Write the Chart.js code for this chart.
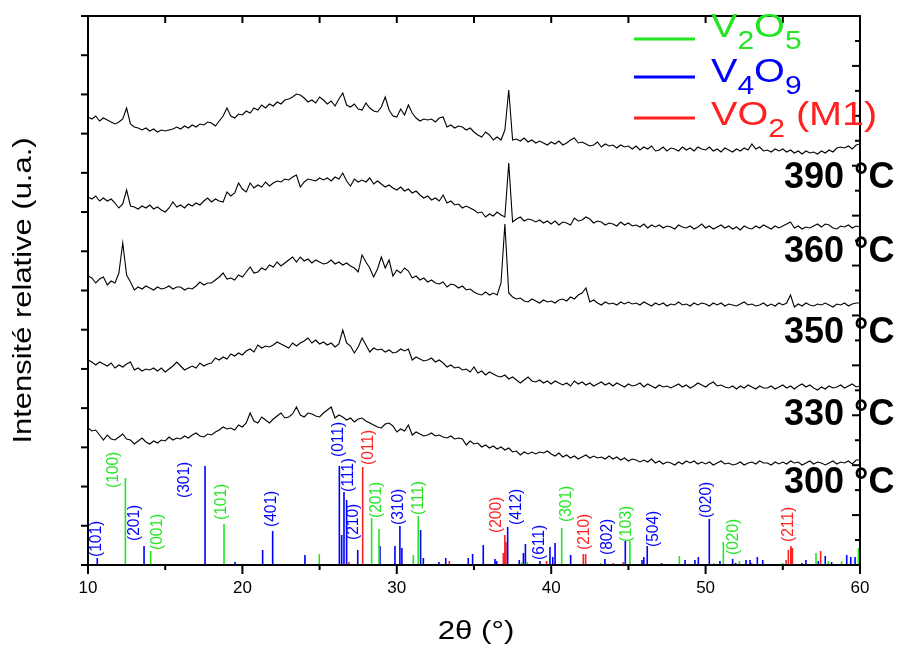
<!DOCTYPE html>
<html>
<head>
<meta charset="utf-8">
<script src="https://cdn.jsdelivr.net/npm/chart.js@4.4.0/dist/chart.umd.min.js"></script>
<style>
  html, body { margin: 0; padding: 0; background: #fff; }
  #wrap { width: 904px; height: 649px; }
</style>
</head>
<body>
<div id="wrap"><canvas id="xrdChart" width="904" height="649"></canvas></div>
<script>
// 2theta sampling of the measured patterns (10..60, step 0.25)
const scanStart = 10;
const scanStep = 0.25;

// measured patterns, already stacked (a.u.)
const scan300 = [
  137, 134, 135, 130, 125, 130, 126, 125, 128, 131, 126, 125, 121, 124, 127, 123,
  121, 124, 122, 125, 124, 128, 125, 127, 126, 129, 127, 130, 132, 129, 128, 131,
  130, 133, 135, 138, 136, 137, 135, 140, 138, 142, 152, 144, 142, 148, 145, 142,
  146, 149, 152, 147, 148, 151, 158, 150, 148, 152, 151, 149, 148, 152, 155, 158,
  147, 150, 148, 145, 147, 143, 146, 147, 144, 142, 140, 138, 137, 141, 142, 139,
  133, 136, 134, 140, 130, 133, 131, 129, 130, 132, 129, 130, 128, 127, 129, 126,
  127, 126, 120, 124, 121, 122, 118, 120, 117, 119, 116, 118, 115, 117, 113, 114,
  110, 113, 111, 113, 111, 113, 112, 114, 111, 109, 112, 108, 110, 107, 109, 106,
  108, 110, 107, 109, 107, 108, 106, 109, 106, 108, 105, 107, 104, 106, 105, 103,
  105, 103, 106, 102, 104, 101, 103, 102, 100, 103, 101, 104, 102, 104, 101, 103,
  101, 103, 100, 102, 104, 101, 102, 100, 101, 103, 100, 102, 103, 101, 104, 102,
  102, 100, 103, 101, 103, 101, 104, 102, 103, 100, 102, 104, 101, 103, 102, 100,
  102, 104, 101, 103, 102, 104, 101, 105, 105
];
const scan330 = [
  205, 203, 200, 203, 201, 199, 202, 197, 200, 198, 201, 203, 195, 197, 194, 196,
  195, 197, 194, 197, 193, 196, 199, 203, 199, 195, 197, 199, 197, 202, 199, 201,
  202, 207, 205, 208, 206, 211, 209, 212, 210, 214, 216, 213, 220, 217, 219, 218,
  220, 223, 221, 219, 217, 222, 219, 222, 224, 227, 222, 225, 221, 223, 220, 222,
  218, 221, 235, 222, 219, 212, 218, 227, 220, 213, 217, 215, 216, 213, 215, 212,
  213, 216, 214, 216, 205, 208, 206, 204, 205, 207, 203, 205, 202, 198, 200, 197,
  198, 195, 196, 193, 198, 192, 194, 190, 193, 191, 189, 188, 190, 186, 188, 185,
  182, 185, 188, 184, 183, 185, 182, 184, 181, 184, 182, 180, 182, 179, 184, 181,
  183, 180, 182, 179, 181, 183, 180, 182, 179, 182, 180, 178, 181, 179, 180, 182,
  178, 181, 179, 177, 180, 178, 179, 177, 179, 181, 178, 180, 177, 179, 182, 180,
  178, 181, 183, 179, 180, 178, 177, 179, 176, 179, 177, 180, 178, 176, 179, 177,
  177, 179, 176, 178, 180, 177, 179, 176, 179, 181, 178, 180, 177, 175, 178, 176,
  179, 177, 178, 180, 177, 179, 181, 178, 179
];
const scan350 = [
  289, 287, 282, 286, 288, 280, 284, 282, 292, 322, 290, 283, 275, 278, 276, 279,
  277, 275, 278, 276, 277, 279, 276, 278, 278, 275, 277, 276, 279, 283, 280, 282,
  282, 285, 288, 292, 286, 287, 285, 290, 288, 293, 298, 292, 293, 297, 295, 300,
  298, 303, 299, 302, 305, 308, 303, 308, 304, 306, 302, 305, 303, 301, 302, 305,
  301, 303, 300, 302, 299, 297, 293, 310, 303, 297, 288, 296, 308, 297, 305, 289,
  295, 292, 297, 294, 287, 289, 285, 287, 283, 285, 282, 281, 283, 278, 281, 280,
  277, 279, 275, 276, 273, 271, 270, 273, 270, 272, 270, 282, 341, 272, 268, 266,
  267, 264, 263, 266, 264, 262, 265, 263, 264, 262, 265, 266, 264, 268, 266, 270,
  272, 277, 263, 265, 262, 260, 263, 261, 262, 260, 263, 261, 263, 261, 262, 260,
  263, 261, 259, 262, 260, 262, 259, 261, 260, 263, 260, 261, 259, 262, 260, 262,
  261, 259, 262, 260, 262, 259, 261, 260, 259, 261, 263, 260, 261, 259, 260, 262,
  259, 261, 259, 262, 260, 262, 270, 258, 261, 259, 262, 260, 259, 261, 260, 262,
  260, 258, 261, 260, 262, 259, 261, 262, 262
];
const scan360 = [
  368, 366, 369, 364, 367, 364, 366, 362, 357, 361, 375, 359, 358, 356, 359, 357,
  360, 356, 358, 355, 353, 357, 363, 358, 360, 357, 361, 359, 362, 360, 364, 367,
  363, 366, 364, 363, 373, 369, 372, 382, 376, 373, 382, 377, 380, 378, 383, 379,
  382, 384, 383, 386, 385, 388, 390, 378, 383, 386, 385, 384, 387, 385, 387, 384,
  388, 386, 392, 384, 379, 386, 383, 385, 383, 387, 381, 384, 381, 378, 380, 377,
  375, 378, 374, 376, 372, 374, 370, 367, 369, 365, 367, 364, 370, 362, 364, 360,
  361, 357, 359, 357, 355, 352, 353, 348, 351, 349, 353, 350, 348, 402, 343, 346,
  348, 344, 346, 345, 343, 345, 342, 344, 341, 344, 340, 343, 342, 340, 347, 344,
  345, 348, 346, 342, 344, 343, 340, 342, 341, 339, 343, 340, 342, 339, 340, 338,
  341, 337, 340, 338, 340, 337, 339, 338, 336, 340, 338, 337, 339, 336, 338, 341,
  337, 339, 336, 338, 340, 337, 339, 336, 338, 335, 339, 337, 336, 339, 337, 340,
  338, 336, 339, 337, 339, 341, 343, 337, 339, 336, 338, 337, 339, 341, 338, 341,
  340, 337, 336, 339, 338, 340, 337, 339, 338
];
const scan390 = [
  448, 446, 449, 444, 447, 445, 443, 441, 443, 446, 457, 441, 438, 437, 435, 437,
  434, 436, 433, 435, 434, 435, 436, 438, 436, 439, 437, 440, 438, 441, 440, 443,
  442, 439, 444, 449, 457, 449, 447, 451, 450, 454, 452, 457, 455, 460, 457, 461,
  459, 463, 461, 465, 466, 468, 471, 470, 467, 463, 465, 462, 468, 465, 461, 464,
  459, 466, 472, 460, 458, 461, 456, 455, 462, 457, 454, 453, 458, 468, 455, 449,
  448, 456, 450, 460, 452, 447, 444, 446, 445, 446, 443, 447, 448, 438, 440, 437,
  439, 438, 435, 437, 433, 430, 428, 433, 430, 425, 428, 425, 435, 475, 425, 426,
  424, 427, 423, 425, 422, 424, 422, 420, 423, 421, 424, 420, 422, 425, 427, 422,
  423, 421, 419, 420, 423, 418, 421, 419, 420, 417, 420, 418, 419, 416, 419, 415,
  418, 416, 419, 414, 415, 418, 414, 417, 416, 414, 418, 415, 417, 414, 418, 416,
  415, 418, 414, 416, 413, 417, 415, 413, 416, 414, 417, 415, 421, 416, 418, 414,
  415, 413, 416, 414, 416, 413, 415, 412, 414, 411, 414, 412, 413, 411, 414, 412,
  415, 413, 417, 418, 417, 419, 416, 420, 421
];

// reference sticks (2theta, relative intensity)
const v2o5Pos = [12.42, 14.06, 18.81, 24.98, 28.37, 28.85, 31.07, 31.39, 38.09, 38.46, 40.68, 43.2,
  45.1, 48.3, 50.54, 51.15, 52.19, 54.99, 57.15, 57.95, 58.81, 59.9];
const v2o5Int = [87, 14, 41, 11, 47, 36, 10, 49, 3, 3, 37, 2,
  24, 9, 2, 23, 4, 2, 12, 4, 4, 17];
const v4o9Pos = [10.6, 13.63, 17.58, 19.52, 21.31, 21.96, 24.05, 26.28, 26.43, 26.58, 26.75, 27.47,
  28.91, 29.88, 30.2, 30.33, 31.54, 31.72, 32.73, 33.17, 34.63, 34.91, 35.6, 36.36, 36.47,
  37.18, 37.93, 38.2, 38.33, 39.27, 39.92, 40.1, 40.25, 41.26, 43.48, 44.8, 45.88, 46.0,
  46.22, 47.15, 48.67, 49.31, 49.53, 50.24, 50.93, 51.75, 51.95, 52.62, 52.88, 53.35, 53.7,
  56.23, 56.5, 57.3, 57.75, 58.16, 59.14, 59.4, 59.68];
const v4o9Int = [7, 19, 99, 3, 15, 34, 10, 99, 30, 73, 65, 15,
  19, 19, 39, 17, 35, 7, 3, 7, 7, 11, 20, 6, 4,
  38, 5, 12, 21, 4, 18, 8, 22, 10, 6, 24, 5, 8,
  19, 2, 5, 5, 8, 46, 4, 6, 2, 5, 5, 8, 5,
  2, 5, 4, 9, 3, 10, 8, 8];
const vo2Pos = [26.9, 27.79, 33.4, 36.9, 37.0, 37.07, 39.7, 42.08, 42.23, 44.02, 44.67, 52.98,
  55.21, 55.36, 55.52, 55.62, 57.45];
const vo2Int = [3, 98, 4, 12, 30, 23, 4, 11, 11, 2, 3, 2,
  5, 15, 19, 17, 14];

// (hkl) annotations: text, phase, 2theta, intensity at text start
const hklLabels = [
  ['(101)', 'V4O9', 10.58, 8], ['(100)', 'V2O5', 11.65, 77], ['(201)', 'V4O9', 13.04, 24],
  ['(001)', 'V2O5', 14.53, 15], ['(301)', 'V4O9', 16.28, 67], ['(101)', 'V2O5', 18.65, 45],
  ['(401)', 'V4O9', 21.88, 38], ['(011)', 'V4O9', 26.22, 108], ['(111)', 'V4O9', 26.87, 73],
  ['(210)', 'V4O9', 27.2, 25], ['(011)', 'VO2', 28.17, 100], ['(201)', 'V2O5', 28.69, 47],
  ['(310)', 'V4O9', 30.11, 40], ['(111)', 'V2O5', 31.41, 50], ['(200)', 'VO2', 36.46, 32],
  ['(412)', 'V4O9', 37.75, 40], ['(611)', 'V4O9', 39.27, 5], ['(301)', 'V2O5', 40.99, 43],
  ['(210)', 'VO2', 42.19, 15], ['(802)', 'V4O9', 43.65, 10], ['(103)', 'V2O5', 44.88, 23],
  ['(504)', 'V4O9', 46.66, 18], ['(020)', 'V4O9', 50.06, 47], ['(020)', 'V2O5', 51.84, 10],
  ['(211)', 'VO2', 55.37, 23]
];

const tempLabels = ['390 °C', '360 °C', '350 °C', '330 °C', '300 °C'];
const tempLevels = [377, 303, 222, 140, 72];

const yMax = 549;
const FONT = '"Liberation Sans", Arial, Helvetica, sans-serif';
const colors = { V2O5: '#22e622', V4O9: '#0000ff', VO2: '#ff2020' };

function toPoints(values) {
  return values.map((v, i) => ({ x: scanStart + i * scanStep, y: v }));
}

function toSticks(pos, ints) {
  const pts = [];
  pos.forEach((p, i) => {
    pts.push({ x: p, y: 0 }, { x: p, y: ints[i] }, { x: p, y: null });
  });
  return pts;
}

function scanDataset(values) {
  return {
    data: toPoints(values),
    borderColor: '#000',
    borderWidth: 1.1,
    pointRadius: 0,
    tension: 0
  };
}

function stickDataset(pos, ints, color) {
  return {
    data: toSticks(pos, ints),
    borderColor: color,
    borderWidth: 1.6,
    pointRadius: 0,
    spanGaps: false,
    tension: 0
  };
}

function drawStretched(ctx, text, x, y, sx, rotate) {
  ctx.save();
  ctx.translate(x, y);
  if (rotate) ctx.rotate(-Math.PI / 2);
  ctx.scale(sx, 1);
  ctx.fillText(text, 0, 0);
  ctx.restore();
}

const decor = {
  id: 'decor',
  afterDraw(chart) {
    const ctx = chart.ctx;
    const xs = chart.scales.x;
    const ys = chart.scales.y;
    const a = chart.chartArea;

    ctx.save();
    ctx.strokeStyle = '#000';
    ctx.fillStyle = '#000';
    ctx.lineWidth = 2;
    ctx.lineCap = 'butt';

    const seg = (x1, y1, x2, y2) => {
      ctx.beginPath();
      ctx.moveTo(x1, y1);
      ctx.lineTo(x2, y2);
      ctx.stroke();
    };

    // frame
    ctx.strokeRect(a.left, a.top, a.right - a.left, a.bottom - a.top);

    // x ticks + labels
    ctx.font = '17px ' + FONT;
    ctx.textAlign = 'center';
    ctx.textBaseline = 'middle';
    for (let v = 10; v <= 60; v += 5) {
      const px = xs.getPixelForValue(v);
      const major = v % 10 === 0;
      seg(px, a.bottom, px, a.bottom + (major ? 9 : 5));
      seg(px, a.top, px, a.top + 7);
      if (major) ctx.fillText(String(v), px, a.bottom + 23);
    }

    // left ticks (outward)
    for (let k = 0; k <= 14; k++) {
      const py = ys.getPixelForValue(k * yMax / 14);
      seg(a.left - 7, py, a.left, py);
    }
    // right ticks (inward)
    for (let k = 0; k <= 22; k++) {
      const py = ys.getPixelForValue(k * yMax / 22);
      seg(a.right - (k % 2 === 0 ? 8 : 5), py, a.right, py);
    }

    // axis titles
    ctx.font = '26px ' + FONT;
    ctx.textAlign = 'center';
    ctx.textBaseline = 'middle';
    drawStretched(ctx, 'Intensité relative (u.a.)', 24, (a.top + a.bottom) / 2, 1.19, true);
    drawStretched(ctx, '2θ (°)', (a.left + a.right) / 2 + 2, a.bottom + 67, 1.2, false);

    // (hkl) labels
    ctx.font = '16px ' + FONT;
    ctx.textAlign = 'left';
    ctx.textBaseline = 'middle';
    hklLabels.forEach(([txt, phase, tt, h]) => {
      ctx.fillStyle = colors[phase];
      drawStretched(ctx, txt, xs.getPixelForValue(tt), ys.getPixelForValue(h), 0.97, true);
    });

    // temperature labels
    ctx.fillStyle = '#000';
    ctx.font = 'bold 36px ' + FONT;
    ctx.textAlign = 'left';
    ctx.textBaseline = 'alphabetic';
    tempLabels.forEach((t, i) => {
      ctx.fillText(t, xs.getPixelForValue(55.08), ys.getPixelForValue(tempLevels[i]));
    });

    // legend
    const rows = [
      { parts: [['V', 0], ['2', 1], ['O', 0], ['5', 1]], color: colors.V2O5, lineY: 23, textY: 21 },
      { parts: [['V', 0], ['4', 1], ['O', 0], ['9', 1]], color: colors.V4O9, lineY: 61, textY: 66 },
      { parts: [['VO', 0], ['2', 1], [' (M1)', 0]], color: colors.VO2, lineY: 102, textY: 109 }
    ];
    const sx = 1.2;
    rows.forEach(r => {
      ctx.strokeStyle = r.color;
      ctx.fillStyle = r.color;
      ctx.lineWidth = 3;
      seg(a.right - 226, a.top + r.lineY, a.right - 165, a.top + r.lineY);
      let x = a.right - 149;
      r.parts.forEach(([txt, sub]) => {
        ctx.font = (sub ? '25px ' : '33px ') + FONT;
        const y = a.top + r.textY + (sub ? 12 : 0);
        drawStretched(ctx, txt, x, y, sx, false);
        x += ctx.measureText(txt).width * sx;
      });
    });

    ctx.restore();
  }
};

new Chart(document.getElementById('xrdChart'), {
  type: 'line',
  data: {
    datasets: [
      scanDataset(scan300),
      scanDataset(scan330),
      scanDataset(scan350),
      scanDataset(scan360),
      scanDataset(scan390),
      stickDataset(v2o5Pos, v2o5Int, colors.V2O5),
      stickDataset(v4o9Pos, v4o9Int, colors.V4O9),
      stickDataset(vo2Pos, vo2Int, colors.VO2)
    ]
  },
  options: {
    responsive: false,
    animation: false,
    layout: { padding: { left: 88, right: 44, top: 16, bottom: 84 } },
    plugins: { legend: { display: false }, tooltip: { enabled: false } },
    scales: {
      x: { type: 'linear', min: 10, max: 60, display: false },
      y: { min: 0, max: yMax, display: false }
    }
  },
  plugins: [decor]
});
</script>
</body>
</html>
